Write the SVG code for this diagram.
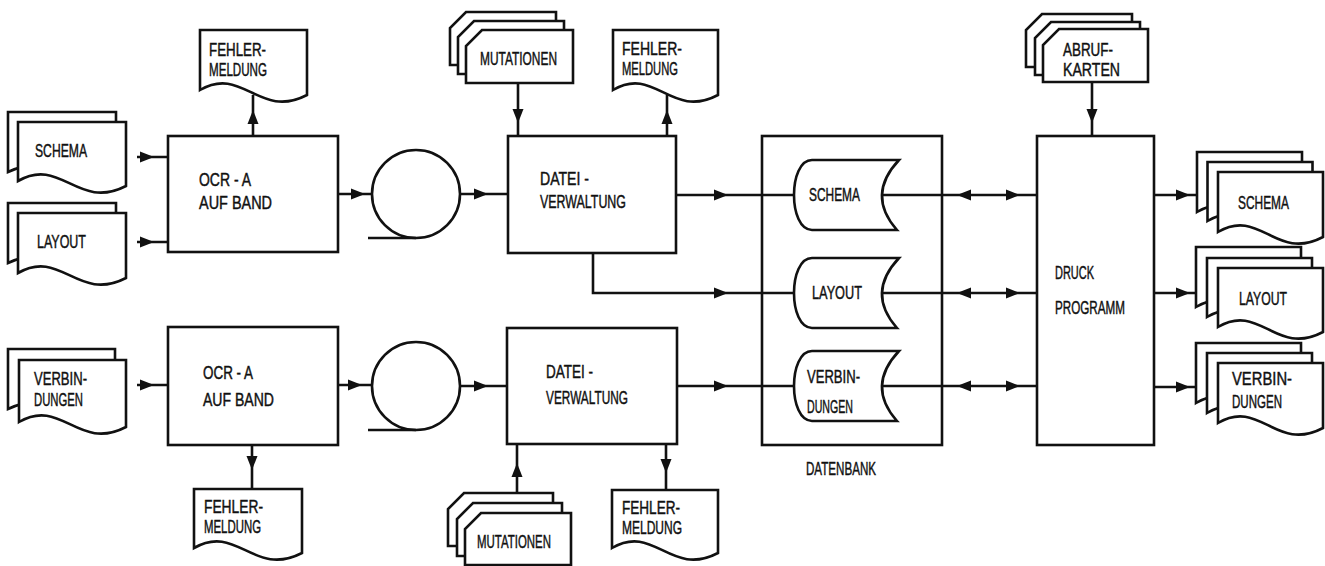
<svg xmlns="http://www.w3.org/2000/svg" xmlns:xlink="http://www.w3.org/1999/xlink" width="1325" height="566" viewBox="0 0 1325 566">
<style>
.s{fill:#fff;stroke:#111;stroke-width:2.6;stroke-linejoin:miter}
.n{fill:none;stroke:#111;stroke-width:2.6}
.c{fill:none;stroke:#111;stroke-width:2.6}
.a{fill:#111;stroke:none}
text{font-family:"Liberation Sans",Arial,sans-serif;font-size:18px;fill:#111;stroke:#111;stroke-width:0.45}
</style>
<defs>
<path id="ah" d="M0,0 L-14,-5.5 L-14,5.5 Z"/>
</defs>
<rect width="1325" height="566" fill="#fff"/>

<g id="datenbank">
<rect class="n" x="762" y="136" width="180" height="309"/>
<text x="806" y="475" textLength="70" lengthAdjust="spacingAndGlyphs">DATENBANK</text>
</g>

<g id="connectors">
<path class="c" d="M137,157 H168 M137,242 H168 M338,194 H372 M460,194 H508 M676,195 H795 M593,253 V293 H795 M677,386 H795 M880,195 H1037 M880,293 H1037 M880,386 H1037 M1154,195 H1196 M1154,293 H1196 M1154,387 H1196 M1092,82 V136 M518,83 V136 M253,136 V95 M667,136 V95 M137,385 H168 M338,385 H372 M460,386 H507 M252,445 V490 M517,493 V444 M666,444 V490"/>
<g class="a">
<use xlink:href="#ah" transform="translate(154,157)"/>
<use xlink:href="#ah" transform="translate(154,242)"/>
<use xlink:href="#ah" transform="translate(365,194)"/>
<use xlink:href="#ah" transform="translate(488,194)"/>
<use xlink:href="#ah" transform="translate(728,195)"/>
<use xlink:href="#ah" transform="translate(728,293)"/>
<use xlink:href="#ah" transform="translate(728,386)"/>
<use xlink:href="#ah" transform="translate(957,195) rotate(180)"/>
<use xlink:href="#ah" transform="translate(1020,195)"/>
<use xlink:href="#ah" transform="translate(957,293) rotate(180)"/>
<use xlink:href="#ah" transform="translate(1020,293)"/>
<use xlink:href="#ah" transform="translate(957,386) rotate(180)"/>
<use xlink:href="#ah" transform="translate(1020,386)"/>
<use xlink:href="#ah" transform="translate(1190,195)"/>
<use xlink:href="#ah" transform="translate(1190,293)"/>
<use xlink:href="#ah" transform="translate(1190,387)"/>
<use xlink:href="#ah" transform="translate(1092,123) rotate(90)"/>
<use xlink:href="#ah" transform="translate(518,123) rotate(90)"/>
<use xlink:href="#ah" transform="translate(253,110) rotate(-90)"/>
<use xlink:href="#ah" transform="translate(667,110) rotate(-90)"/>
<use xlink:href="#ah" transform="translate(154,385)"/>
<use xlink:href="#ah" transform="translate(362,385)"/>
<use xlink:href="#ah" transform="translate(488,386)"/>
<use xlink:href="#ah" transform="translate(252,470) rotate(90)"/>
<use xlink:href="#ah" transform="translate(517,463) rotate(-90)"/>
<use xlink:href="#ah" transform="translate(666,473) rotate(90)"/>
</g>
</g>

<g id="in-schema">
<path class="s" d="M8,112 H116 V177 C75.4,202 59.2,147 8,172 Z"/>
<path class="s" d="M18,122 H126 V186 C77.4,211 61.2,156 18,181 Z"/>
<text x="35" y="157" textLength="52" lengthAdjust="spacingAndGlyphs">SCHEMA</text>
</g>
<g id="in-layout">
<path class="s" d="M8,203 H116 V268 C75.4,293 59.2,238 8,263 Z"/>
<path class="s" d="M18,213 H126 V278 C77.4,303 61.2,248 18,273 Z"/>
<text x="37" y="248" textLength="49" lengthAdjust="spacingAndGlyphs">LAYOUT</text>
</g>
<g id="in-verbindungen">
<path class="s" d="M8,349 H115 V414 C74.9,439 58.8,384 8,409 Z"/>
<path class="s" d="M19,360 H126 V427 C77.9,452 61.8,397 19,422 Z"/>
<text x="34" y="385" textLength="53" lengthAdjust="spacingAndGlyphs">VERBIN-</text>
<text x="34" y="406" textLength="49" lengthAdjust="spacingAndGlyphs">DUNGEN</text>
</g>

<g id="ocr-1">
<rect class="s" x="168" y="136" width="170" height="116"/>
<text x="199" y="186" textLength="52" lengthAdjust="spacingAndGlyphs">OCR - A</text>
<text x="199" y="209" textLength="73" lengthAdjust="spacingAndGlyphs">AUF  BAND</text>
</g>
<g id="ocr-2">
<rect class="s" x="168" y="327" width="170" height="118"/>
<text x="203" y="379" textLength="50" lengthAdjust="spacingAndGlyphs">OCR - A</text>
<text x="203" y="406" textLength="71" lengthAdjust="spacingAndGlyphs">AUF  BAND</text>
</g>

<g id="fehler-1">
<path class="s" d="M200,30 H307 V95 C258.9,120 242.8,65 200,90 Z"/>
<text x="209" y="56" textLength="57" lengthAdjust="spacingAndGlyphs">FEHLER-</text>
<text x="209" y="76" textLength="58" lengthAdjust="spacingAndGlyphs">MELDUNG</text>
</g>
<g id="fehler-2">
<path class="s" d="M613,30 H718 V95 C670.8,120 655,65 613,90 Z"/>
<text x="622" y="55" textLength="60" lengthAdjust="spacingAndGlyphs">FEHLER-</text>
<text x="622" y="75" textLength="56" lengthAdjust="spacingAndGlyphs">MELDUNG</text>
</g>
<g id="fehler-3">
<path class="s" d="M194,489 H302 V553 C253.4,578 237.2,523 194,548 Z"/>
<text x="204" y="513" textLength="59" lengthAdjust="spacingAndGlyphs">FEHLER-</text>
<text x="204" y="533" textLength="57" lengthAdjust="spacingAndGlyphs">MELDUNG</text>
</g>
<g id="fehler-4">
<path class="s" d="M612,490 H718 V553 C670.3,578 654.4,523 612,548 Z"/>
<text x="622" y="514" textLength="58" lengthAdjust="spacingAndGlyphs">FEHLER-</text>
<text x="622" y="534" textLength="60" lengthAdjust="spacingAndGlyphs">MELDUNG</text>
</g>

<g id="band-1">
<circle class="s" cx="416" cy="194" r="44"/>
<path class="n" d="M368,238 H416"/>
</g>
<g id="band-2">
<circle class="s" cx="416" cy="386" r="44"/>
<path class="n" d="M368,430 H416"/>
</g>

<g id="mutationen-1">
<path class="s" d="M466,12 H556 V65 H450 V28 Z"/>
<path class="s" d="M474,21 H564 V74 H458 V37 Z"/>
<path class="s" d="M482,30 H573 V83 H466 V46 Z"/>
<text x="480" y="65" textLength="77" lengthAdjust="spacingAndGlyphs">MUTATIONEN</text>
</g>
<g id="mutationen-2">
<path class="s" d="M464,493 H553 V546 H448 V509 Z"/>
<path class="s" d="M473,503 H562 V556 H457 V519 Z"/>
<path class="s" d="M481,513 H571 V565 H465 V529 Z"/>
<text x="477" y="548" textLength="74" lengthAdjust="spacingAndGlyphs">MUTATIONEN</text>
</g>

<g id="datei-1">
<rect class="s" x="508" y="136" width="168" height="117"/>
<text x="540" y="185" textLength="49" lengthAdjust="spacingAndGlyphs">DATEI -</text>
<text x="540" y="208" textLength="86" lengthAdjust="spacingAndGlyphs">VERWALTUNG</text>
</g>
<g id="datei-2">
<rect class="s" x="507" y="328" width="170" height="116"/>
<text x="546" y="378" textLength="47" lengthAdjust="spacingAndGlyphs">DATEI -</text>
<text x="546" y="404" textLength="82" lengthAdjust="spacingAndGlyphs">VERWALTUNG</text>
</g>

<g id="db-schema">
<path class="s" d="M812,160 H899 Q866,195 897,230 H812 C788,230 788,160 812,160 Z"/>
<text x="809" y="201" textLength="51" lengthAdjust="spacingAndGlyphs">SCHEMA</text>
</g>
<g id="db-layout">
<path class="s" d="M812,258 H899 Q866,293 897,328 H812 C788,328 788,258 812,258 Z"/>
<text x="812" y="299" textLength="50" lengthAdjust="spacingAndGlyphs">LAYOUT</text>
</g>
<g id="db-verbindungen">
<path class="s" d="M812,351 H899 Q866,386 897,421 H812 C788,421 788,351 812,351 Z"/>
<text x="807" y="383" textLength="53" lengthAdjust="spacingAndGlyphs">VERBIN-</text>
<text x="807" y="413" textLength="46" lengthAdjust="spacingAndGlyphs">DUNGEN</text>
</g>

<g id="abrufkarten">
<path class="s" d="M1042,14 H1132 V67 H1026 V30 Z"/>
<path class="s" d="M1051,22 H1140 V75 H1035 V38 Z"/>
<path class="s" d="M1059,29 H1148 V82 H1043 V45 Z"/>
<text x="1063" y="56" textLength="50" lengthAdjust="spacingAndGlyphs">ABRUF-</text>
<text x="1063" y="76" textLength="57" lengthAdjust="spacingAndGlyphs">KARTEN</text>
</g>

<g id="druckprogramm">
<rect class="s" x="1037" y="136" width="117" height="309"/>
<text x="1055" y="279" textLength="39" lengthAdjust="spacingAndGlyphs">DRUCK</text>
<text x="1055" y="314" textLength="70" lengthAdjust="spacingAndGlyphs">PROGRAMM</text>
</g>

<g id="out-schema">
<path class="s" d="M1197,152 H1302 V217 C1254.8,242 1239,187 1197,212 Z"/>
<path class="s" d="M1207.5,162 H1312.5 V226 C1265.3,251 1249.5,196 1207.5,221 Z"/>
<path class="s" d="M1218,172 H1323 V237 C1275.8,262 1260,207 1218,232 Z"/>
<text x="1238" y="209" textLength="51" lengthAdjust="spacingAndGlyphs">SCHEMA</text>
</g>
<g id="out-layout">
<path class="s" d="M1196,247 H1301 V312 C1253.8,337 1238,282 1196,307 Z"/>
<path class="s" d="M1207,258 H1312 V322 C1264.8,347 1249,292 1207,317 Z"/>
<path class="s" d="M1218,268 H1323 V332 C1275.8,357 1260,302 1218,327 Z"/>
<text x="1239" y="305" textLength="48" lengthAdjust="spacingAndGlyphs">LAYOUT</text>
</g>
<g id="out-verbindungen">
<path class="s" d="M1196,343 H1301 V408 C1253.8,433 1238,378 1196,403 Z"/>
<path class="s" d="M1207,353 H1312 V418 C1264.8,443 1249,388 1207,413 Z"/>
<path class="s" d="M1218,363 H1323 V428 C1275.8,453 1260,398 1218,423 Z"/>
<text x="1232" y="385" textLength="60" lengthAdjust="spacingAndGlyphs">VERBIN-</text>
<text x="1232" y="408" textLength="50" lengthAdjust="spacingAndGlyphs">DUNGEN</text>
</g>
</svg>
